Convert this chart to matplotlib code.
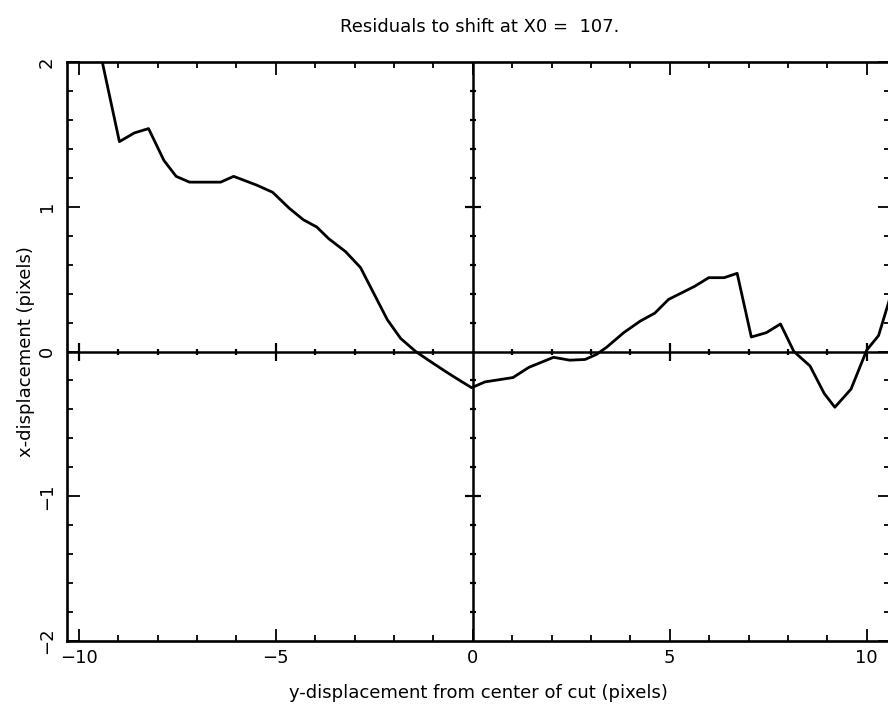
import matplotlib
matplotlib.use("Agg")
import matplotlib.pyplot as plt
from matplotlib.ticker import MultipleLocator
import numpy as np

# residuals along the cut
x_disp = [-9.42, -8.97, -8.59, -8.23, -7.84, -7.53, -7.19, -6.40, -6.07, -5.49,
          -5.08, -4.66, -4.30, -3.96, -3.66, -3.23, -2.85, -2.51, -2.17, -1.83,
          -1.45, -1.07, -0.68, -0.39, -0.03, 0.31, 1.02, 1.42, 2.05, 2.46,
          2.85, 3.14, 3.40, 3.83, 4.25, 4.62, 4.97, 5.63, 5.99, 6.38,
          6.71, 7.07, 7.45, 7.81, 8.15, 8.56, 8.92, 9.19, 9.60, 10.00,
          10.30, 10.60]
resid = [2.02, 1.45, 1.51, 1.54, 1.32, 1.21, 1.17, 1.17, 1.21, 1.15,
         1.10, 0.99, 0.91, 0.86, 0.78, 0.69, 0.58, 0.40, 0.22, 0.09,
         0.00, -0.07, -0.14, -0.19, -0.25, -0.21, -0.18, -0.11, -0.04, -0.06,
         -0.055, -0.02, 0.03, 0.13, 0.21, 0.265, 0.36, 0.45, 0.51, 0.51,
         0.54, 0.10, 0.13, 0.19, 0.00, -0.10, -0.29, -0.385, -0.26, 0.01,
         0.11, 0.38]

x0_label = "107."

fig = plt.figure(figsize=(8.88, 7.11), dpi=100)
ax = fig.add_axes([67/888, 1 - 641/711, (890 - 67)/888, (641 - 62)/711])

ax.plot(x_disp, resid, color="k", lw=2.0)

ax.set_xlim(-10.3, 10.59)
ax.set_ylim(-2, 2)

# axis lines through the origin, with their own ticks
ax.axhline(0, color="k", lw=1.8)
ax.axvline(0, color="k", lw=1.8)
xt = np.arange(-10, 11)
yt = np.arange(-2, 2.01, 0.2)
small_x = [v for v in xt if v % 5 != 0]
big_x = [v for v in xt if v % 5 == 0 and v != 0]
small_y = [v for v in yt if abs(v - round(v)) > 0.01]
big_y = [v for v in yt if abs(v - round(v)) < 0.01 and abs(v) > 0.01 and abs(v) < 1.99]
ax.plot(small_x, np.zeros(len(small_x)), ls="none", marker="|", ms=5, mew=1.6, color="k")
ax.plot(big_x, np.zeros(len(big_x)), ls="none", marker="|", ms=13, mew=1.6, color="k")
ax.plot(np.zeros(len(small_y)), small_y, ls="none", marker="_", ms=5, mew=1.6, color="k")
ax.plot(np.zeros(len(big_y)), big_y, ls="none", marker="_", ms=12, mew=1.6, color="k")

for s in ax.spines.values():
    s.set_linewidth(1.9)

ax.xaxis.set_major_locator(MultipleLocator(5))
ax.xaxis.set_minor_locator(MultipleLocator(1))
ax.yaxis.set_major_locator(MultipleLocator(1))
ax.yaxis.set_minor_locator(MultipleLocator(0.2))
ax.tick_params(which="both", direction="in", top=True, right=True, width=1.3)
ax.tick_params(which="major", length=9, labelsize=13, pad=6)
ax.tick_params(which="minor", length=4.5)
ax.tick_params(axis="y", labelrotation=90, pad=8)
for lab in ax.get_yticklabels():
    lab.set_va("center")

ax.set_xlabel("y-displacement from center of cut (pixels)", fontsize=13, labelpad=12)
ax.set_ylabel("x-displacement (pixels)", fontsize=13, labelpad=2)
fig.text(480/888, 1 - 27/711, "Residuals to shift at X0 =  " + x0_label,
         ha="center", va="center", fontsize=13)

fig.savefig("out.png", dpi=100)
